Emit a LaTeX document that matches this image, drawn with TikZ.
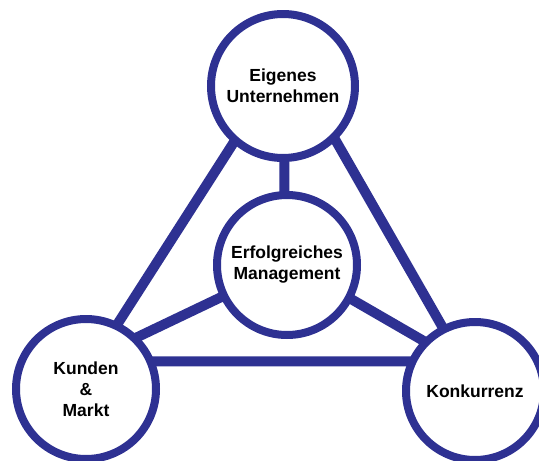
\documentclass[tikz,border=0pt]{standalone}
\usepackage{fontspec}
\setmainfont{Liberation Sans}
\usetikzlibrary{backgrounds}
\definecolor{ringblue}{HTML}{2E3192}
\begin{document}
\begin{tikzpicture}[x=1pt,y=-1pt,
  ring/.style={circle, draw=ringblue, line width=8pt, fill=white, inner sep=0pt,
    align=center, text=black, font=\fontsize{17.5}{21}\selectfont\bfseries},
  link/.style={draw=ringblue, line width=10pt, shorten <=-8pt, shorten >=-8pt}]
\useasboundingbox (0,0) rectangle (539,461);

% the four circles
\node[ring, minimum size=144pt] (U) at (283,86)  {Eigenes\\Unternehmen};
\node[ring, minimum size=140pt] (M) at (287,265) {Erfolgreiches\\Management};
\node[ring, minimum size=140pt] (K) at (86,389)  {Kunden\\\&\\Markt};
\node[ring, minimum size=138pt] (R) at (475,391) {Konkurrenz};

% connecting bars, behind the circles
\begin{scope}[on background layer]
  \draw[link] (U.229) -- (K.64);
  \draw[link] (U.314) -- (R.117);
  \draw[link] (K.22)  -- (R.156);
  \draw[link] (U.271) -- (M.92);
  \draw[link] (M.206) -- (K.45);
  \draw[link] (M.332) -- (R.136);
\end{scope}
\end{tikzpicture}
\end{document}
